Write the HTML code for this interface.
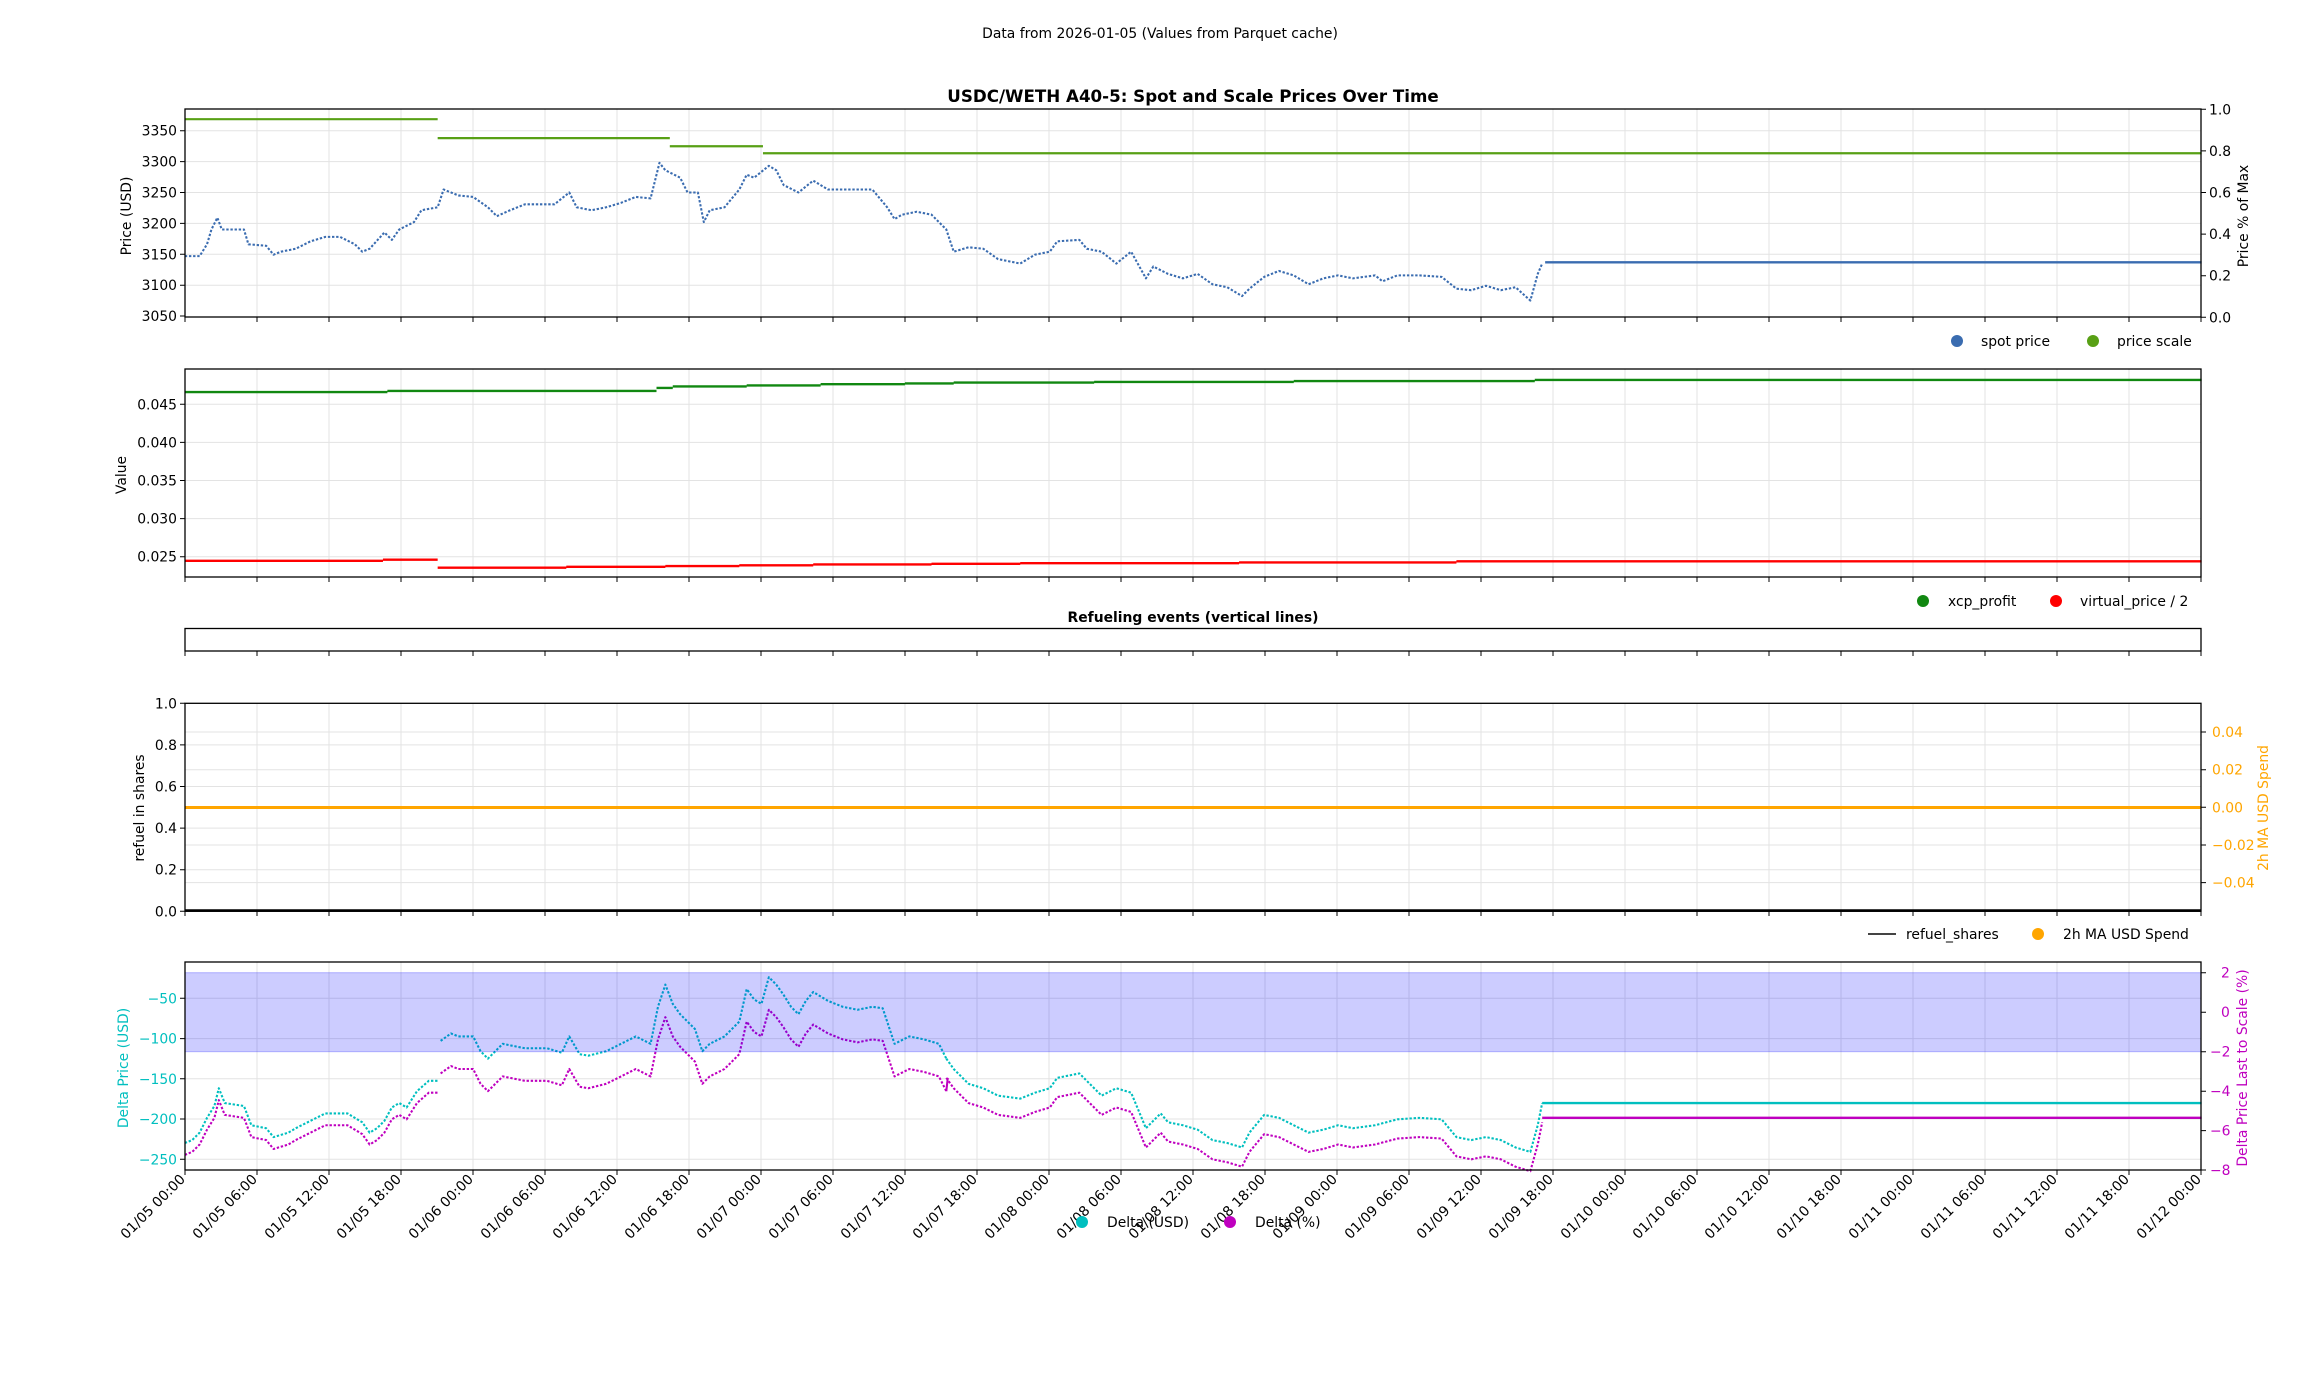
<!DOCTYPE html>
<html><head><meta charset="utf-8"><style>
html,body{margin:0;padding:0;background:#fff}
svg{display:block}
text{font-family:"DejaVu Sans","Liberation Sans",sans-serif;font-size:13.9px;fill:#000}
.g{stroke:#e3e3e3;stroke-width:1}
.ax{fill:none;stroke:#000;stroke-width:1.3}
.tk{stroke:#000;stroke-width:1}
</style></head><body>
<svg width="2317" height="1377" viewBox="0 0 2317 1377" xmlns="http://www.w3.org/2000/svg">
<defs>
<g id="xg">
<path class="g" d="M257,0V208M329,0V208M401,0V208M473,0V208M545,0V208M617,0V208M689,0V208M761,0V208M833,0V208M905,0V208M977,0V208M1049,0V208M1121,0V208M1193,0V208M1265,0V208M1337,0V208M1409,0V208M1481,0V208M1553,0V208M1625,0V208M1697,0V208M1769,0V208M1841,0V208M1913,0V208M1985,0V208M2057,0V208M2129,0V208"/>
</g>
<g id="xt">
<path class="tk" d="M185,0v5M257,0v5M329,0v5M401,0v5M473,0v5M545,0v5M617,0v5M689,0v5M761,0v5M833,0v5M905,0v5M977,0v5M1049,0v5M1121,0v5M1193,0v5M1265,0v5M1337,0v5M1409,0v5M1481,0v5M1553,0v5M1625,0v5M1697,0v5M1769,0v5M1841,0v5M1913,0v5M1985,0v5M2057,0v5M2129,0v5M2201,0v5"/>
</g>
</defs>

<text x="1160" y="38" text-anchor="middle">Data from 2026-01-05 (Values from Parquet cache)</text>
<text x="1193" y="102" text-anchor="middle" style="font-weight:bold;font-size:16.7px">USDC/WETH A40-5: Spot and Scale Prices Over Time</text>

<!-- PANEL 1 -->
<g transform="translate(0,109)"><use href="#xg"/></g>
<path class="g" d="M185,130.7H2201M185,161.6H2201M185,192.5H2201M185,223.4H2201M185,254.3H2201M185,285.2H2201"/>
<g transform="scale(1.4786,1.4806)" fill="none" stroke-linejoin="round">
<path d="M125,80.5H296M296,93.3H453M453,98.8H516M516,103.5H1489" stroke="#58a015" stroke-width="1.5"/>
<polyline stroke="#3a6cb0" stroke-width="1.4" stroke-dasharray="1.6 1.2" points="125,173 135,173 140,165 143,155 147,147 150,155 165,155 168,165 180,166 185,172 190,170 200,168 210,163 220,160 230,160 240,165 245,170 250,168 260,157 265,162 270,155 280,150 285,142 296,140 300,128 310,132 320,133 330,140 336,146 345,142 355,138 375,138 385,130 390,140 400,142 410,140 420,137 430,133 440,134 446,110 450,115 460,120 465,130 472,130 476,150 480,142 490,140 500,128 505,118 510,120 520,112 525,115 530,125 540,130 550,122 560,128 570,128 580,128 590,128 600,140 605,148 610,145 620,143 630,145 640,155 645,170 655,167 665,168 675,175 690,178 700,172 710,170 715,163 730,162 735,168 745,170 755,178 765,170 775,188 780,180 790,185 800,188 810,185 820,192 830,194 840,200 845,195 855,187 865,183 875,186 885,192 895,188 905,186 915,188 930,186 935,190 945,186 960,186 975,187 985,195 995,196 1005,193 1015,196 1025,194 1035,203 1040,185 1043,178"/>
<path d="M1045,177.2H1489" stroke="#3a6cb0" stroke-width="1.6"/>
</g>
<rect class="ax" x="185" y="109" width="2016" height="208"/>
<g transform="translate(0,317)"><use href="#xt"/></g>
<path class="tk" d="M180,130.7h5M180,161.6h5M180,192.5h5M180,223.4h5M180,254.3h5M180,285.2h5M180,316h5M2201,109.3h5M2201,150.9h5M2201,192.5h5M2201,234.1h5M2201,275.7h5M2201,317.3h5"/>
<g text-anchor="end"><text x="177" y="135.7">3350</text><text x="177" y="166.6">3300</text><text x="177" y="197.5">3250</text><text x="177" y="228.4">3200</text><text x="177" y="259.3">3150</text><text x="177" y="290.2">3100</text><text x="177" y="321">3050</text></g>
<g><text x="2209" y="114.3">1.0</text><text x="2209" y="155.9">0.8</text><text x="2209" y="197.5">0.6</text><text x="2209" y="239.1">0.4</text><text x="2209" y="280.7">0.2</text><text x="2209" y="322.3">0.0</text></g>
<text transform="translate(127,216) rotate(-90)" text-anchor="middle" dominant-baseline="central">Price (USD)</text>
<text transform="translate(2244,216) rotate(-90)" text-anchor="middle" dominant-baseline="central">Price % of Max</text>
<circle cx="1957" cy="341" r="6" fill="#3a6cb0"/><text x="1981" y="346">spot price</text>
<circle cx="2093" cy="341" r="6" fill="#58a015"/><text x="2117" y="346">price scale</text>

<!-- PANEL 2 -->
<g transform="translate(0,369)"><use href="#xg"/></g>
<path class="g" d="M185,404.3H2201M185,442.4H2201M185,480.5H2201M185,518.6H2201M185,556.7H2201"/>
<g transform="scale(1.4786,1.4806)" fill="none" stroke-width="1.6">
<path stroke="#118811" d="M125,264.8H262M262,264H444M444,262H455M455,261H505M505,260.3H555M555,259.5H612M612,259H645M645,258.4H740M740,258H875M875,257.4H1038M1038,256.6H1489"/>
<path stroke="#f00" d="M125,378.8H259M259,378H296M296,383.4H383M383,382.8H450M450,382.3H500M500,381.8H550M550,381.2H630M630,380.8H690M690,380.4H838M838,379.9H985M985,379.1H1489"/>
</g>
<rect class="ax" x="185" y="369" width="2016" height="208"/>
<g transform="translate(0,577)"><use href="#xt"/></g>
<path class="tk" d="M180,404.3h5M180,442.4h5M180,480.5h5M180,518.6h5M180,556.7h5"/>
<g text-anchor="end"><text x="177" y="409.3">0.045</text><text x="177" y="447.4">0.040</text><text x="177" y="485.5">0.035</text><text x="177" y="523.6">0.030</text><text x="177" y="561.7">0.025</text></g>
<text transform="translate(122,475) rotate(-90)" text-anchor="middle" dominant-baseline="central">Value</text>
<circle cx="1923" cy="601" r="6" fill="#118811"/><text x="1948" y="606">xcp_profit</text>
<circle cx="2056" cy="601" r="6" fill="#f00"/><text x="2080" y="606">virtual_price / 2</text>

<!-- PANEL 3 -->
<text x="1193" y="622" text-anchor="middle" style="font-weight:bold">Refueling events (vertical lines)</text>
<rect class="ax" x="185" y="628.5" width="2016" height="22.5"/>
<g transform="translate(0,651)"><use href="#xt"/></g>

<!-- PANEL 4 -->
<g transform="translate(0,703)"><use href="#xg"/></g>
<path class="g" d="M185,744.9H2201M185,786.5H2201M185,828.1H2201M185,869.7H2201M185,732H2201M185,769.7H2201M185,845H2201M185,882.6H2201"/>
<path d="M185,807.5H2201" stroke="#ffa500" stroke-width="3"/>
<path d="M185,910.5H2201" stroke="#000" stroke-width="2.5"/>
<rect class="ax" x="185" y="703.3" width="2016" height="208"/>
<g transform="translate(0,911)"><use href="#xt"/></g>
<path class="tk" d="M180,703.3h5M180,744.9h5M180,786.5h5M180,828.1h5M180,869.7h5M180,911.3h5"/>
<path d="M2201,732h5M2201,769.7h5M2201,807.3h5M2201,845h5M2201,882.6h5" stroke="#000"/>
<g text-anchor="end"><text x="177" y="708.3">1.0</text><text x="177" y="749.9">0.8</text><text x="177" y="791.5">0.6</text><text x="177" y="833.1">0.4</text><text x="177" y="874.7">0.2</text><text x="177" y="916.3">0.0</text></g>
<g><text x="2212" y="737" style="fill:#ffa500">0.04</text><text x="2212" y="774.7" style="fill:#ffa500">0.02</text><text x="2212" y="812.3" style="fill:#ffa500">0.00</text><text x="2212" y="850" style="fill:#ffa500">−0.02</text><text x="2212" y="887.6" style="fill:#ffa500">−0.04</text></g>
<text transform="translate(140,808) rotate(-90)" text-anchor="middle" dominant-baseline="central">refuel in shares</text>
<text transform="translate(2264,808) rotate(-90)" text-anchor="middle" dominant-baseline="central" style="fill:#ffa500">2h MA USD Spend</text>
<path d="M1868,934H1896" stroke="#444" stroke-width="2"/><text x="1906" y="939">refuel_shares</text>
<circle cx="2038" cy="934" r="6" fill="#ffa500"/><text x="2063" y="939">2h MA USD Spend</text>

<!-- PANEL 5 -->
<g transform="translate(0,962)"><use href="#xg"/></g>
<path class="g" d="M185,998.3H2201M185,1038.6H2201M185,1078.8H2201M185,1119H2201M185,1159.3H2201"/>
<g transform="scale(1.4786,1.4806)" fill="none" stroke-width="1.4" stroke-linejoin="round">
<polyline id="c1" points="125,772 130,770 135,765 140,755 145,747 148,735 152,745 165,747 170,760 180,762 185,768 195,765 200,762 210,757 220,752 235,752 245,758 250,765 255,762 260,757 265,748 270,745 275,748 282,737 290,730 296,730"/>
<polyline id="c2" points="298,703 305,698 310,700 320,700 325,710 330,715 340,705 345,706 355,708 370,708 380,711 385,700 392,712 398,713 410,710 420,705 430,700 440,705 445,680 450,665 455,678 460,685 465,690 470,695 475,710 480,705 490,700 500,690 505,668 510,675 515,678 520,660 525,665 530,672 535,680 540,685 545,676 550,670 560,676 570,680 580,682 590,680 597,681 600,690 605,705 615,700 625,702 635,705 640,715"/>
<polyline id="c3" points="640,715 645,722 655,732 665,735 675,740 690,742 700,738 710,735 715,728 730,725 735,730 745,740 755,735 765,738 770,750 775,762 785,752 790,758 800,760 810,763 820,770 830,772 840,775 845,765 855,753 865,755 875,760 885,765 895,763 905,760 915,762 930,760 945,756 960,755 975,756 985,768 995,770 1005,768 1015,770 1025,775 1035,778 1040,760 1043,745"/>
<use href="#c1" stroke="#00bfbf" stroke-dasharray="1.6 1.2"/><use href="#c2" stroke="#00bfbf" stroke-dasharray="1.6 1.2"/><use href="#c3" stroke="#00bfbf" stroke-dasharray="1.6 1.2"/>
<use href="#c1" stroke="#bf00bf" stroke-dasharray="1.6 1.2" transform="translate(0,8)"/><use href="#c2" stroke="#bf00bf" stroke-dasharray="1.6 1.2" transform="translate(0,22)"/><use href="#c3" stroke="#bf00bf" stroke-dasharray="1.6 1.2" transform="translate(0,13)"/>
<path d="M640,737L641,728" stroke="#bf00bf"/>
<path d="M1043,745H1489" stroke="#00bfbf" stroke-width="1.6"/>
<path d="M1043,755H1489" stroke="#bf00bf" stroke-width="1.6"/>
</g>
<rect x="185" y="972.7" width="2016" height="79" fill="#0000ff" fill-opacity="0.2" stroke="#0000ff" stroke-opacity="0.25"/>
<rect class="ax" x="185" y="962" width="2016" height="208"/>
<g transform="translate(0,1170)"><use href="#xt"/></g>
<path class="tk" d="M180,998.3h5M180,1038.6h5M180,1078.8h5M180,1119h5M180,1159.3h5"/>
<path d="M2201,972.7h5M2201,1012.2h5M2201,1051.7h5M2201,1091.2h5M2201,1130.6h5M2201,1170h5" stroke="#000"/>
<g text-anchor="end"><text x="177" y="1003.3" style="fill:#00bfbf">−50</text><text x="177" y="1043.6" style="fill:#00bfbf">−100</text><text x="177" y="1083.8" style="fill:#00bfbf">−150</text><text x="177" y="1124" style="fill:#00bfbf">−200</text><text x="177" y="1164.3" style="fill:#00bfbf">−250</text></g>
<g><text x="2221" y="977.7" style="fill:#bf00bf">2</text><text x="2221" y="1017.2" style="fill:#bf00bf">0</text><text x="2210" y="1056.7" style="fill:#bf00bf">−2</text><text x="2210" y="1096.2" style="fill:#bf00bf">−4</text><text x="2210" y="1135.6" style="fill:#bf00bf">−6</text><text x="2210" y="1175" style="fill:#bf00bf">−8</text></g>
<text transform="translate(124,1068) rotate(-90)" text-anchor="middle" dominant-baseline="central" style="fill:#00bfbf">Delta Price (USD)</text>
<text transform="translate(2243,1068) rotate(-90)" text-anchor="middle" dominant-baseline="central" style="fill:#bf00bf">Delta Price Last to Scale (%)</text>

<!-- x tick labels -->
<g text-anchor="end">
<text transform="translate(186,1180) rotate(-45)">01/05 00:00</text>
<text transform="translate(258,1180) rotate(-45)">01/05 06:00</text>
<text transform="translate(330,1180) rotate(-45)">01/05 12:00</text>
<text transform="translate(402,1180) rotate(-45)">01/05 18:00</text>
<text transform="translate(474,1180) rotate(-45)">01/06 00:00</text>
<text transform="translate(546,1180) rotate(-45)">01/06 06:00</text>
<text transform="translate(618,1180) rotate(-45)">01/06 12:00</text>
<text transform="translate(690,1180) rotate(-45)">01/06 18:00</text>
<text transform="translate(762,1180) rotate(-45)">01/07 00:00</text>
<text transform="translate(834,1180) rotate(-45)">01/07 06:00</text>
<text transform="translate(906,1180) rotate(-45)">01/07 12:00</text>
<text transform="translate(978,1180) rotate(-45)">01/07 18:00</text>
<text transform="translate(1050,1180) rotate(-45)">01/08 00:00</text>
<text transform="translate(1122,1180) rotate(-45)">01/08 06:00</text>
<text transform="translate(1194,1180) rotate(-45)">01/08 12:00</text>
<text transform="translate(1266,1180) rotate(-45)">01/08 18:00</text>
<text transform="translate(1338,1180) rotate(-45)">01/09 00:00</text>
<text transform="translate(1410,1180) rotate(-45)">01/09 06:00</text>
<text transform="translate(1482,1180) rotate(-45)">01/09 12:00</text>
<text transform="translate(1554,1180) rotate(-45)">01/09 18:00</text>
<text transform="translate(1626,1180) rotate(-45)">01/10 00:00</text>
<text transform="translate(1698,1180) rotate(-45)">01/10 06:00</text>
<text transform="translate(1770,1180) rotate(-45)">01/10 12:00</text>
<text transform="translate(1842,1180) rotate(-45)">01/10 18:00</text>
<text transform="translate(1914,1180) rotate(-45)">01/11 00:00</text>
<text transform="translate(1986,1180) rotate(-45)">01/11 06:00</text>
<text transform="translate(2058,1180) rotate(-45)">01/11 12:00</text>
<text transform="translate(2130,1180) rotate(-45)">01/11 18:00</text>
<text transform="translate(2202,1180) rotate(-45)">01/12 00:00</text>
</g>
<circle cx="1082" cy="1222" r="6" fill="#00bfbf"/><text x="1107" y="1227">Delta (USD)</text>
<circle cx="1230" cy="1222" r="6" fill="#bf00bf"/><text x="1255" y="1227">Delta (%)</text>
</svg>
</body></html>
